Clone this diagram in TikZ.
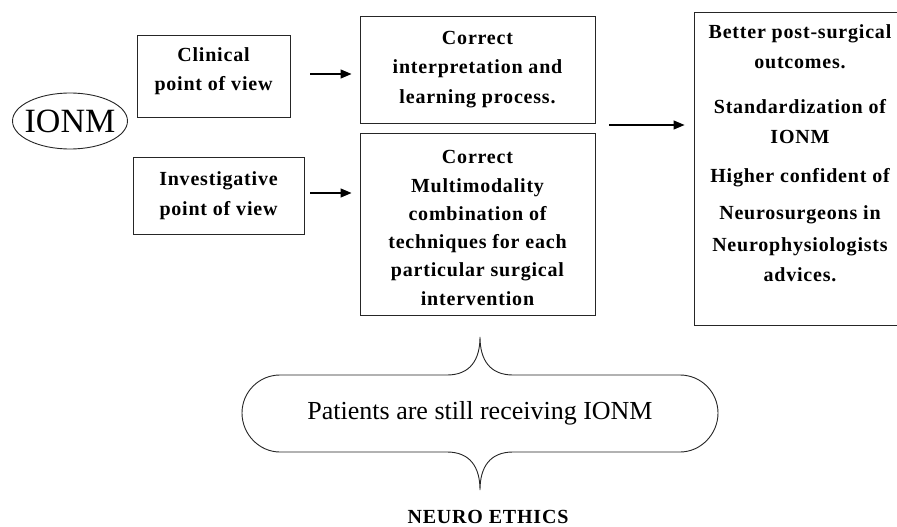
\documentclass[tikz,border=0pt]{standalone}
\usepackage{fontspec}
\setmainfont{Liberation Serif}
\newfontfamily\boxfont[LetterSpace=4]{Liberation Serif}
\usetikzlibrary{arrows.meta,calc}
\begin{document}
\begin{tikzpicture}[x=1pt,y=-1pt,
  box/.style={draw=black!85, line width=0.9pt, align=center, inner sep=0pt,
    font=\boxfont\bfseries\fontsize{20}{29.5}\selectfont},
  txt/.style={align=center, inner sep=0pt,
    font=\boxfont\bfseries\fontsize{20}{29.5}\selectfont},
  arr/.style={-{Triangle[length=11pt,width=9pt]}, line width=1.2pt},
  shapeline/.style={draw=black!85, line width=0.9pt}]
\useasboundingbox (0,0) rectangle (897,527);
\clip (0,0) rectangle (897,527);
\fill[white] (0,0) rectangle (897,527);

% IONM ellipse
\node[font=\fontsize{34}{34}\selectfont] (ionm) at (70,121) {IONM};
\draw[shapeline] (ionm.center) ellipse [x radius=57.5pt, y radius=28pt];

% left boxes
\node[box, minimum width=153pt, minimum height=82pt] (clin) at (213.5,76) {};
\node[txt] (clintext) at (213.5,71) {Clinical\\point of view};
\node[box, minimum width=171pt, minimum height=77pt] (inv) at (218.5,195.5) {Investigative\\point of view};

% middle boxes
\node[box, minimum width=235pt, minimum height=107pt] (mtop) at (477.5,69.5) {Correct\\interpretation and\\learning process.};
\node[box, minimum width=235pt, minimum height=182pt] (mbot) at (477.5,224) {};
\node[txt, font=\boxfont\bfseries\fontsize{20}{28.3}\selectfont] (mbottext) at (477.5,228)
  {Correct\\Multimodality\\combination of\\techniques for each\\particular surgical\\intervention};

% right box (its right side runs off the picture)
\node[box, minimum width=210pt, minimum height=313pt] (res) at (799,168.5) {};
\node[txt, anchor=north, font=\boxfont\bfseries\fontsize{20}{30}\selectfont] (restext) at (800,24)
  {Better post-surgical\\outcomes.\\[15pt]Standardization of\\IONM\\[9pt]Higher confident of\\[7pt]Neurosurgeons in\\[2pt]Neurophysiologists\\advices.};

% arrows
\coordinate (a1) at (290,74);
\draw[arr, shorten <=20pt, shorten >=8pt] (a1) -- (a1 -| mtop.west);
\draw[arr, shorten <=6pt, shorten >=8pt] (inv.east |- 0,193) -- (mbot.west |- 0,193);
\coordinate (gap) at (595,125);
\draw[arr, shorten <=14pt, shorten >=9pt] (gap) -- (gap -| res.west);

% brace-shaped callout
\draw[shapeline] (280,375) -- (447,375)
  .. controls (470,375) and (480,360) .. (480,337)
  .. controls (480,360) and (490,375) .. (513,375) -- (680,375)
  .. controls (701,375) and (718,392) .. (718,413)
  .. controls (718,434) and (701,452) .. (680,452) -- (513,452)
  .. controls (490,452) and (480,467) .. (480,490)
  .. controls (480,467) and (470,452) .. (447,452) -- (280,452)
  .. controls (259,452) and (242,434) .. (242,413)
  .. controls (242,392) and (259,375) .. (280,375) -- cycle;
\node[font=\fontsize{26}{26}\selectfont] (pat) at (480,413) {Patients are still receiving IONM};

\node[inner sep=0pt, font=\boxfont\bfseries\fontsize{20}{20}\selectfont] (ne) at (488,516.5) {NEURO ETHICS};
\end{tikzpicture}
\end{document}
